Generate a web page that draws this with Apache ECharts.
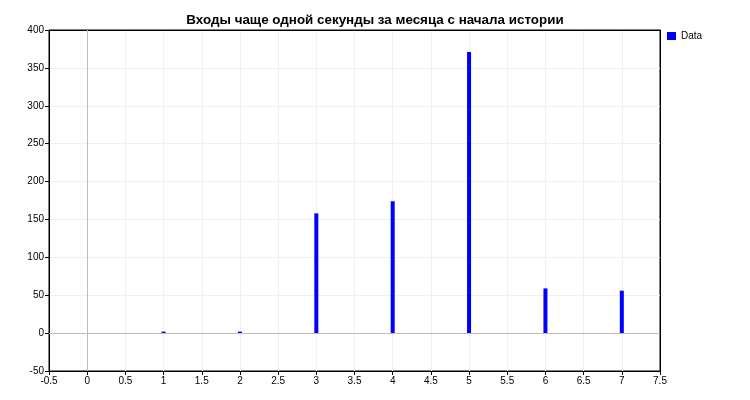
<!DOCTYPE html>
<html>
<head>
<meta charset="utf-8">
<script src="https://cdn.jsdelivr.net/npm/echarts@6/dist/echarts.min.js"></script>
<style>
  html, body { margin: 0; padding: 0; background: #fff; }
  #chart { width: 750px; height: 400px; }
</style>
</head>
<body>
<div id="chart"></div>
<script>
  // данные
  const months = [1, 2, 3, 4, 5, 6, 7]
  const entries = [2, 2, 158, 174, 371, 59, 56]
  const xTicks = { min: -0.5, max: 7.5, step: 0.5 }
  const yTicks = { min: -50, max: 400, step: 50 }

  const chart = echarts.init(document.getElementById('chart'))
  const font = 'Arial, "Liberation Sans", sans-serif'

  // верхняя и правая рамка — пустые оси
  const frameAxis = {
    type: 'value',
    axisLine: { show: true, onZero: false, lineStyle: { color: '#000' } },
    axisTick: { show: false },
    axisLabel: { show: false },
    splitLine: { show: false }
  }

  const option = {
    animation: false,
    title: {
      text: 'Входы чаще одной секунды за месяца с начала истории',
      left: 370,
      textAlign: 'center',
      top: 9,
      textStyle: { fontFamily: font, fontSize: 13.4, fontWeight: 'bold', color: '#000' }
    },
    legend: {
      data: [{ name: 'Data', icon: 'rect' }],
      left: 667,
      top: 31,
      padding: 0,
      itemWidth: 9,
      itemHeight: 8,
      itemGap: 4,
      textStyle: { fontFamily: font, fontSize: 10, color: '#000' }
    },
    grid: {
      left: 49,
      right: 90,
      top: 30,
      bottom: 29,
      show: true,
      borderColor: '#000',
      borderWidth: 1,
      backgroundColor: '#fff'
    },
    xAxis: [
      {
        type: 'value',
        position: 'bottom',
        min: xTicks.min,
        max: xTicks.max,
        interval: xTicks.step,
        axisLine: { show: true, onZero: false, lineStyle: { color: '#000' } },
        axisTick: { show: true, inside: false, length: 4, lineStyle: { color: '#000' } },
        axisLabel: { fontFamily: font, fontSize: 10, color: '#000', margin: 5 },
        splitLine: { show: true, lineStyle: { color: '#f0f0f0' } }
      },
      Object.assign({ position: 'top', min: xTicks.min, max: xTicks.max }, frameAxis)
    ],
    yAxis: [
      {
        type: 'value',
        position: 'left',
        min: yTicks.min,
        max: yTicks.max,
        interval: yTicks.step,
        axisLine: { show: true, onZero: false, lineStyle: { color: '#000' } },
        axisTick: { show: true, inside: false, length: 4, lineStyle: { color: '#000' } },
        axisLabel: { fontFamily: font, fontSize: 10, color: '#000', margin: 5 },
        splitLine: { show: true, lineStyle: { color: '#f0f0f0' } }
      },
      Object.assign({ position: 'right', min: yTicks.min, max: yTicks.max }, frameAxis)
    ],
    series: [
      {
        name: 'Data',
        type: 'bar',
        barWidth: 4,
        itemStyle: { color: '#0000ff' },
        data: months.map((m, i) => [m, entries[i]]),
        markLine: {
          silent: true,
          symbol: 'none',
          label: { show: false },
          lineStyle: { color: '#bdbdbd', type: 'solid', width: 1 },
          data: [{ xAxis: 0 }, { yAxis: 0 }]
        },
        z: 3
      }
    ]
  }

  chart.setOption(option)
</script>
</body>
</html>
